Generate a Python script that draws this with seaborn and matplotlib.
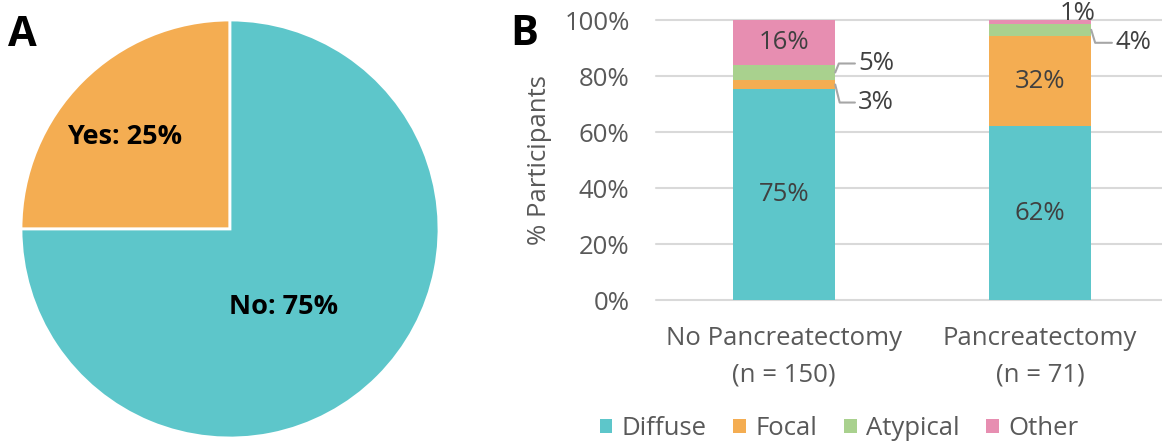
import matplotlib
matplotlib.use("Agg")
import matplotlib.pyplot as plt
from matplotlib.patches import Patch
import numpy as np
import seaborn as sns

# Panel A: share of participants who had a pancreatectomy
pie_labels = ["Yes", "No"]
pie_values = [25, 75]
pie_colors = ["#F4AD52", "#5DC6CA"]

# Panel B: lesion type (% of participants) by surgery group
groups = ["No Pancreatectomy\n(n = 150)", "Pancreatectomy\n(n = 71)"]
lesion_types = ["Diffuse", "Focal", "Atypical", "Other"]
diffuse = [75.3, 62.0]
focal = [3.3, 32.4]
atypical = [5.3, 4.2]
other = [16.0, 1.4]
lesion_colors = ["#5DC6CA", "#F4AD52", "#A9D18E", "#E78EB1"]

sns.set_theme(style="white")
plt.rcParams["font.family"] = ["Open Sans", "DejaVu Sans"]

W, H = 1162, 442
fig = plt.figure(figsize=(W / 100, H / 100), dpi=100)

LABEL_GREY = "#404040"
TICK_GREY = "#595959"
FS = 18.5

# ---------- Panel A: pie ----------
ax_pie = fig.add_axes([21 / W, 4 / H, 418 / W, 418 / H])
ax_pie.pie(pie_values, colors=pie_colors, startangle=90, counterclock=True,
           wedgeprops=dict(edgecolor="white", linewidth=2))
ax_pie.set_xlim(-1, 1)
ax_pie.set_ylim(-1, 1)
pie_text_pos = [(-0.505, 0.44), (0.255, -0.375)]
for lab, val, (tx, ty) in zip(pie_labels, pie_values, pie_text_pos):
    ax_pie.text(tx, ty, f"{lab}: {val}%", ha="center", va="center",
                fontsize=19.5, fontweight="bold", color="black")

fig.text(8 / W, 1 - 46 / H, "A", fontsize=30, fontweight="bold", color="black",
         ha="left", va="baseline")
fig.text(510 / W, 1 - 45 / H, "B", fontsize=30, fontweight="bold", color="black",
         ha="left", va="baseline")

# ---------- Panel B: stacked bars ----------
ax = fig.add_axes([656 / W, 142 / H, 512 / W, 280 / H])
layers = [diffuse, focal, atypical, other]
bottom = np.zeros(len(groups))
for name, vals, col in zip(lesion_types, layers, lesion_colors):
    sns.barplot(x=groups, y=vals, bottom=bottom.copy(), color=col, width=0.4,
                saturation=1, errorbar=None, edgecolor="none", ax=ax)
    bottom += np.array(vals)

ax.set_xlim(-0.5, 1.5)
ax.set_ylim(0, 100)
ax.set_yticks(range(0, 101, 20))
ax.set_yticklabels([f"{t}%" for t in range(0, 101, 20)])
ax.yaxis.grid(True, color="#D9D9D9", linewidth=1.5)
for gl in ax.get_ygridlines():
    gl.set_clip_on(False)
ax.set_axisbelow(True)
for s in ax.spines.values():
    s.set_visible(False)
ax.tick_params(axis="both", length=0, colors=TICK_GREY, labelsize=FS)
ax.tick_params(axis="y", pad=19)
ax.tick_params(axis="x", pad=19)
for t in ax.get_xticklabels():
    t.set_linespacing(1.6)
ax.set_ylabel("% Participants", fontsize=FS, color=TICK_GREY)
ax.yaxis.set_label_coords(-0.203, 0.5)

# value labels inside the larger segments
half_w = 0.2
bottom = np.zeros(len(groups))
seg_mid = []
for vals in layers:
    v = np.array(vals)
    seg_mid.append(bottom + v / 2)
    bottom = bottom + v
for li, vals in enumerate(layers):
    for gi, v in enumerate(vals):
        if v >= 10:
            ax.text(gi, seg_mid[li][gi], f"{v:.0f}%", ha="center", va="center",
                    fontsize=FS, color=LABEL_GREY)

# callout labels for the thin segments
callouts = [
    # (layer, group, dx px, dy px, leader angle)
    (2, 0, 23, 9, 68),
    (1, 0, 23, -18, -76),
    (2, 1, 24, -13, -73),
]
for li, gi, dx, dy, ang in callouts:
    v = layers[li][gi]
    ax.annotate(f"{v:.0f}%", xy=(gi + half_w, seg_mid[li][gi]),
                xytext=(dx, dy), textcoords="offset pixels",
                ha="left", va="center", fontsize=FS, color=LABEL_GREY,
                annotation_clip=False,
                arrowprops=dict(arrowstyle="-", color="#A6A6A6", lw=1.5,
                                shrinkA=0, shrinkB=0,
                                connectionstyle=f"angle,angleA=0,angleB={ang},rad=0"))
# smallest segment on top of the second bar
v = other[1]
ax.annotate(f"{v:.0f}%", xy=(1, bottom[1]), xytext=(38, 6),
            textcoords="offset pixels", ha="center", va="center",
            fontsize=FS, color=LABEL_GREY, annotation_clip=False)

handles = [Patch(facecolor=c, edgecolor="none") for c in lesion_colors]
fig.legend(handles, lesion_types, loc="center", ncol=4, frameon=False,
           bbox_to_anchor=(839 / W, 1 - 428.5 / H), fontsize=FS,
           handlelength=0.5, handleheight=0.5, handletextpad=0.35,
           columnspacing=1.05, labelcolor=TICK_GREY)

fig.savefig("out.png", dpi=100)
